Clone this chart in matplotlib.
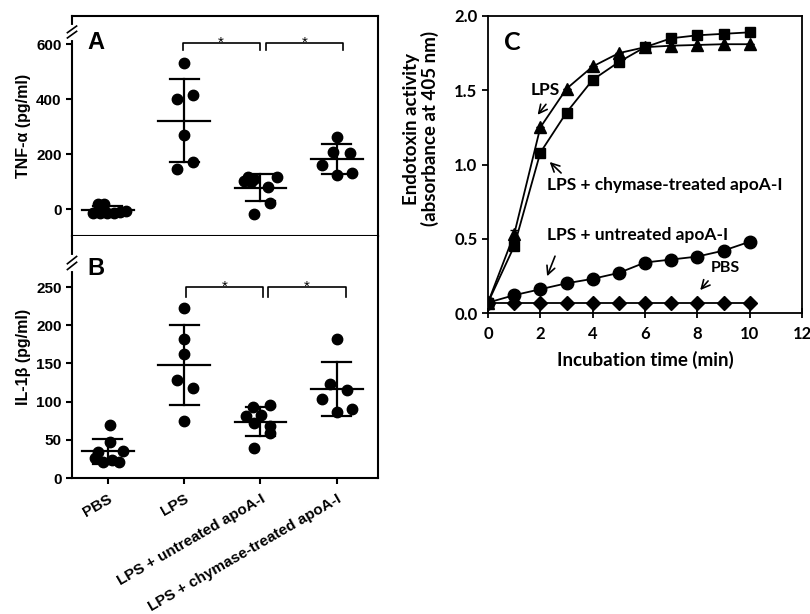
import numpy as np
import matplotlib
matplotlib.use('Agg')
import matplotlib.pyplot as plt

# ---- data ----
groups = ['PBS', 'LPS', 'LPS + untreated apoA-I', 'LPS + chymase-treated apoA-I']

# panel A: TNF-alpha (pg/ml), horizontal offset of each dot inside its column
tnf_pbs = [20, 20, -15, -15, -15, -15, -12, -8]
tnf_pbs_dx = [-0.13, -0.05, -0.20, -0.10, -0.01, 0.08, 0.16, 0.24]
tnf_lps = [530, 399, 415, 269, 172, 144]
tnf_lps_dx = [0.0, -0.09, 0.11, 0.0, 0.11, -0.09]
tnf_unt = [115, 108, 103, 99, 115, 79, 21, -18]
tnf_unt_dx = [-0.17, -0.08, -0.21, -0.12, 0.21, 0.10, 0.12, -0.08]
tnf_chy = [263, 160, 208, 205, 124, 130]
tnf_chy_dx = [0.0, -0.20, -0.05, 0.17, 0.0, 0.20]

# panel B: IL-1beta (pg/ml)
il_pbs = [70, 47, 35, 34, 26, 21, 24, 21]
il_pbs_dx = [0.03, 0.03, 0.20, -0.13, -0.17, -0.06, 0.05, 0.14]
il_lps = [223, 182, 162, 128, 118, 75]
il_lps_dx = [0.0, 0.0, 0.0, -0.09, 0.11, 0.0]
il_unt = [93, 96, 81, 83, 72, 68, 59, 39]
il_unt_dx = [-0.10, 0.12, -0.19, 0.01, -0.08, 0.12, 0.12, -0.08]
il_chy = [182, 123, 103, 115, 87, 90]
il_chy_dx = [0.0, -0.09, -0.20, 0.13, 0.0, 0.20]

# panel C: endotoxin activity vs time
time_min = [0, 1, 2, 3, 4, 5, 6, 7, 8, 9, 10]
c_lps = [0.07, 0.53, 1.25, 1.51, 1.66, 1.75, 1.79, 1.80, 1.805, 1.81, 1.81]
c_chy = [0.07, 0.45, 1.08, 1.35, 1.57, 1.69, 1.79, 1.85, 1.87, 1.88, 1.89]
c_unt = [0.07, 0.12, 0.16, 0.20, 0.23, 0.27, 0.34, 0.36, 0.38, 0.42, 0.48]
c_pbs = [0.07, 0.07, 0.07, 0.07, 0.07, 0.07, 0.07, 0.07, 0.07, 0.07, 0.07]
c_lps_err = [0, 0.03, 0, 0, 0, 0, 0, 0, 0, 0, 0]

ARIAL = 'Liberation Sans'
CALIBRI = 'Lato'

fig = plt.figure(figsize=(8.1, 6.14), dpi=100)
ax_a = fig.add_axes([72/810, 1-236/614, 306/810, 220/614])
ax_b = fig.add_axes([72/810, 1-478/614, 306/810, 242/614])
ax_c = fig.add_axes([488/810, 1-313/614, 314/810, 297/614])


def scatter_panel(ax, vals, dxs):
    for i, (v, dx) in enumerate(zip(vals, dxs)):
        v = np.array(v, float)
        ax.plot(i + np.array(dx), v, 'o', color='black', ms=7.5, zorder=3)
        m = v.mean()
        sd = v.std(ddof=1)
        ax.plot([i-0.34, i+0.34], [m, m], color='black', lw=1.6, zorder=4)
        ax.plot([i, i], [m-sd, m+sd], color='black', lw=1.6, zorder=4)
        for y in (m-sd, m+sd):
            ax.plot([i-0.19, i+0.19], [y, y], color='black', lw=1.6, zorder=4)
    ax.set_xlim(-0.47, 3.54)
    ax.set_xticks(range(4))
    for s in ax.spines.values():
        s.set_linewidth(1.5)
    ax.tick_params(width=1.5, length=4, labelsize=11)
    for lab in ax.get_yticklabels():
        lab.set_fontweight('bold')
        lab.set_family(ARIAL)


def bracket(ax, x0, x1, y, drop):
    ax.plot([x0, x0, x1, x1], [y-drop, y, y, y-drop], color='black', lw=1.2, clip_on=False)
    ax.text((x0+x1)/2, y, '*', ha='center', va='center', fontsize=11, family=ARIAL)


def axis_break(ax, yfrac):
    ax.plot([0, 0], [yfrac-0.025, yfrac+0.025], color='white', lw=3,
            transform=ax.transAxes, clip_on=False, zorder=5)
    for off in (-0.012, 0.012):
        ax.plot([-0.015, 0.015], [yfrac+off-0.015, yfrac+off+0.015], color='black', lw=1.2,
                transform=ax.transAxes, clip_on=False, zorder=6)


# panel A
scatter_panel(ax_a, [tnf_pbs, tnf_lps, tnf_unt, tnf_chy],
              [tnf_pbs_dx, tnf_lps_dx, tnf_unt_dx, tnf_chy_dx])
ax_a.set_ylim(-98, 702)
ax_a.set_yticks([0, 200, 400, 600])
ax_a.set_xticklabels([])
ax_a.tick_params(axis='x', length=7)
ax_a.set_ylabel('TNF-α (pg/ml)', fontsize=11.5, fontweight='bold', family=ARIAL, labelpad=4)
ax_a.text(0.05, 0.93, 'A', transform=ax_a.transAxes, fontsize=17, fontweight='bold',
          family=ARIAL, va='top')
bracket(ax_a, 0.98, 1.99, 605, 27)
bracket(ax_a, 2.07, 3.08, 605, 27)
axis_break(ax_a, 1 - (32 - 16)/220)

# panel B
scatter_panel(ax_b, [il_pbs, il_lps, il_unt, il_chy],
              [il_pbs_dx, il_lps_dx, il_unt_dx, il_chy_dx])
ax_b.set_ylim(0, 317)
ax_b.set_yticks([0, 50, 100, 150, 200, 250])
ax_b.spines['top'].set_visible(False)
ax_b.set_xticklabels(groups, rotation=30, ha='right', rotation_mode='anchor',
                     fontsize=11, fontweight='bold', family=ARIAL)
ax_b.tick_params(axis='x', pad=6)
ax_b.set_ylabel('IL-1β (pg/ml)', fontsize=11.5, fontweight='bold', family=ARIAL, labelpad=4)
ax_b.text(0.05, 0.915, 'B', transform=ax_b.transAxes, fontsize=17, fontweight='bold',
          family=ARIAL, va='top')
bracket(ax_b, 1.02, 2.03, 250, 13)
bracket(ax_b, 2.10, 3.12, 250, 13)
axis_break(ax_b, 1 - (263 - 236)/242)

# panel C
t = np.array(time_min)
ax_c.plot(t, c_pbs, '-D', color='black', ms=7, lw=1.3, zorder=3)
ax_c.plot(t, c_unt, '-o', color='black', ms=9, lw=1.3, zorder=3)
ax_c.errorbar(t, c_lps, yerr=c_lps_err, fmt='-^', color='black', ms=8.5, lw=1.3,
              capsize=3, zorder=4)
ax_c.plot(t, c_chy, '-s', color='black', ms=7.5, lw=1.3, zorder=4)
ax_c.set_xlim(0, 12)
ax_c.set_ylim(0, 2.0)
ax_c.set_xticks(range(0, 13, 2))
ax_c.set_yticks([0, 0.5, 1.0, 1.5, 2.0])
ax_c.set_yticklabels(['0.0', '0.5', '1.0', '1.5', '2.0'])
for s in ax_c.spines.values():
    s.set_linewidth(1.3)
ax_c.tick_params(axis='x', direction='inout', length=7, width=1.3, labelsize=12, pad=6)
ax_c.tick_params(axis='y', direction='out', length=4, width=1.3, labelsize=12)
for lab in ax_c.get_xticklabels() + ax_c.get_yticklabels():
    lab.set_fontweight('bold')
    lab.set_family(CALIBRI)
ax_c.set_xlabel('Incubation time (min)', fontsize=13.5, fontweight='bold', family=CALIBRI,
                labelpad=6)
ax_c.set_ylabel('Endotoxin activity\n(absorbance at 405 nm)', fontsize=13.5,
                fontweight='bold', family=CALIBRI, linespacing=1.1)
ax_c.yaxis.set_label_coords(-0.155, 0.62)
ax_c.text(0.05, 0.95, 'C', transform=ax_c.transAxes, fontsize=18, fontweight='bold',
          family=CALIBRI, va='top')

arrow = dict(arrowstyle='->', color='black', lw=1.2, mutation_scale=15)
kw = dict(fontsize=12.5, fontweight='bold', family=CALIBRI, va='center', ha='left')
ax_c.annotate('', xy=(1.83, 1.32), xytext=(2.28, 1.42), arrowprops=arrow)
ax_c.text(1.62, 1.50, 'LPS', **kw)
ax_c.annotate('', xy=(2.28, 1.03), xytext=(2.87, 0.93), arrowprops=arrow)
ax_c.text(2.27, 0.86, 'LPS + chymase-treated apoA-I', **kw)
ax_c.annotate('', xy=(2.22, 0.23), xytext=(2.60, 0.40), arrowprops=arrow)
ax_c.text(2.27, 0.525, 'LPS + untreated apoA-I', **kw)
ax_c.annotate('', xy=(8.04, 0.14), xytext=(8.48, 0.23), arrowprops=arrow)
ax_c.text(8.52, 0.30, 'PBS', fontsize=11.5, fontweight='bold', family=CALIBRI,
          va='center', ha='left')

fig.savefig('out.png', dpi=100)
